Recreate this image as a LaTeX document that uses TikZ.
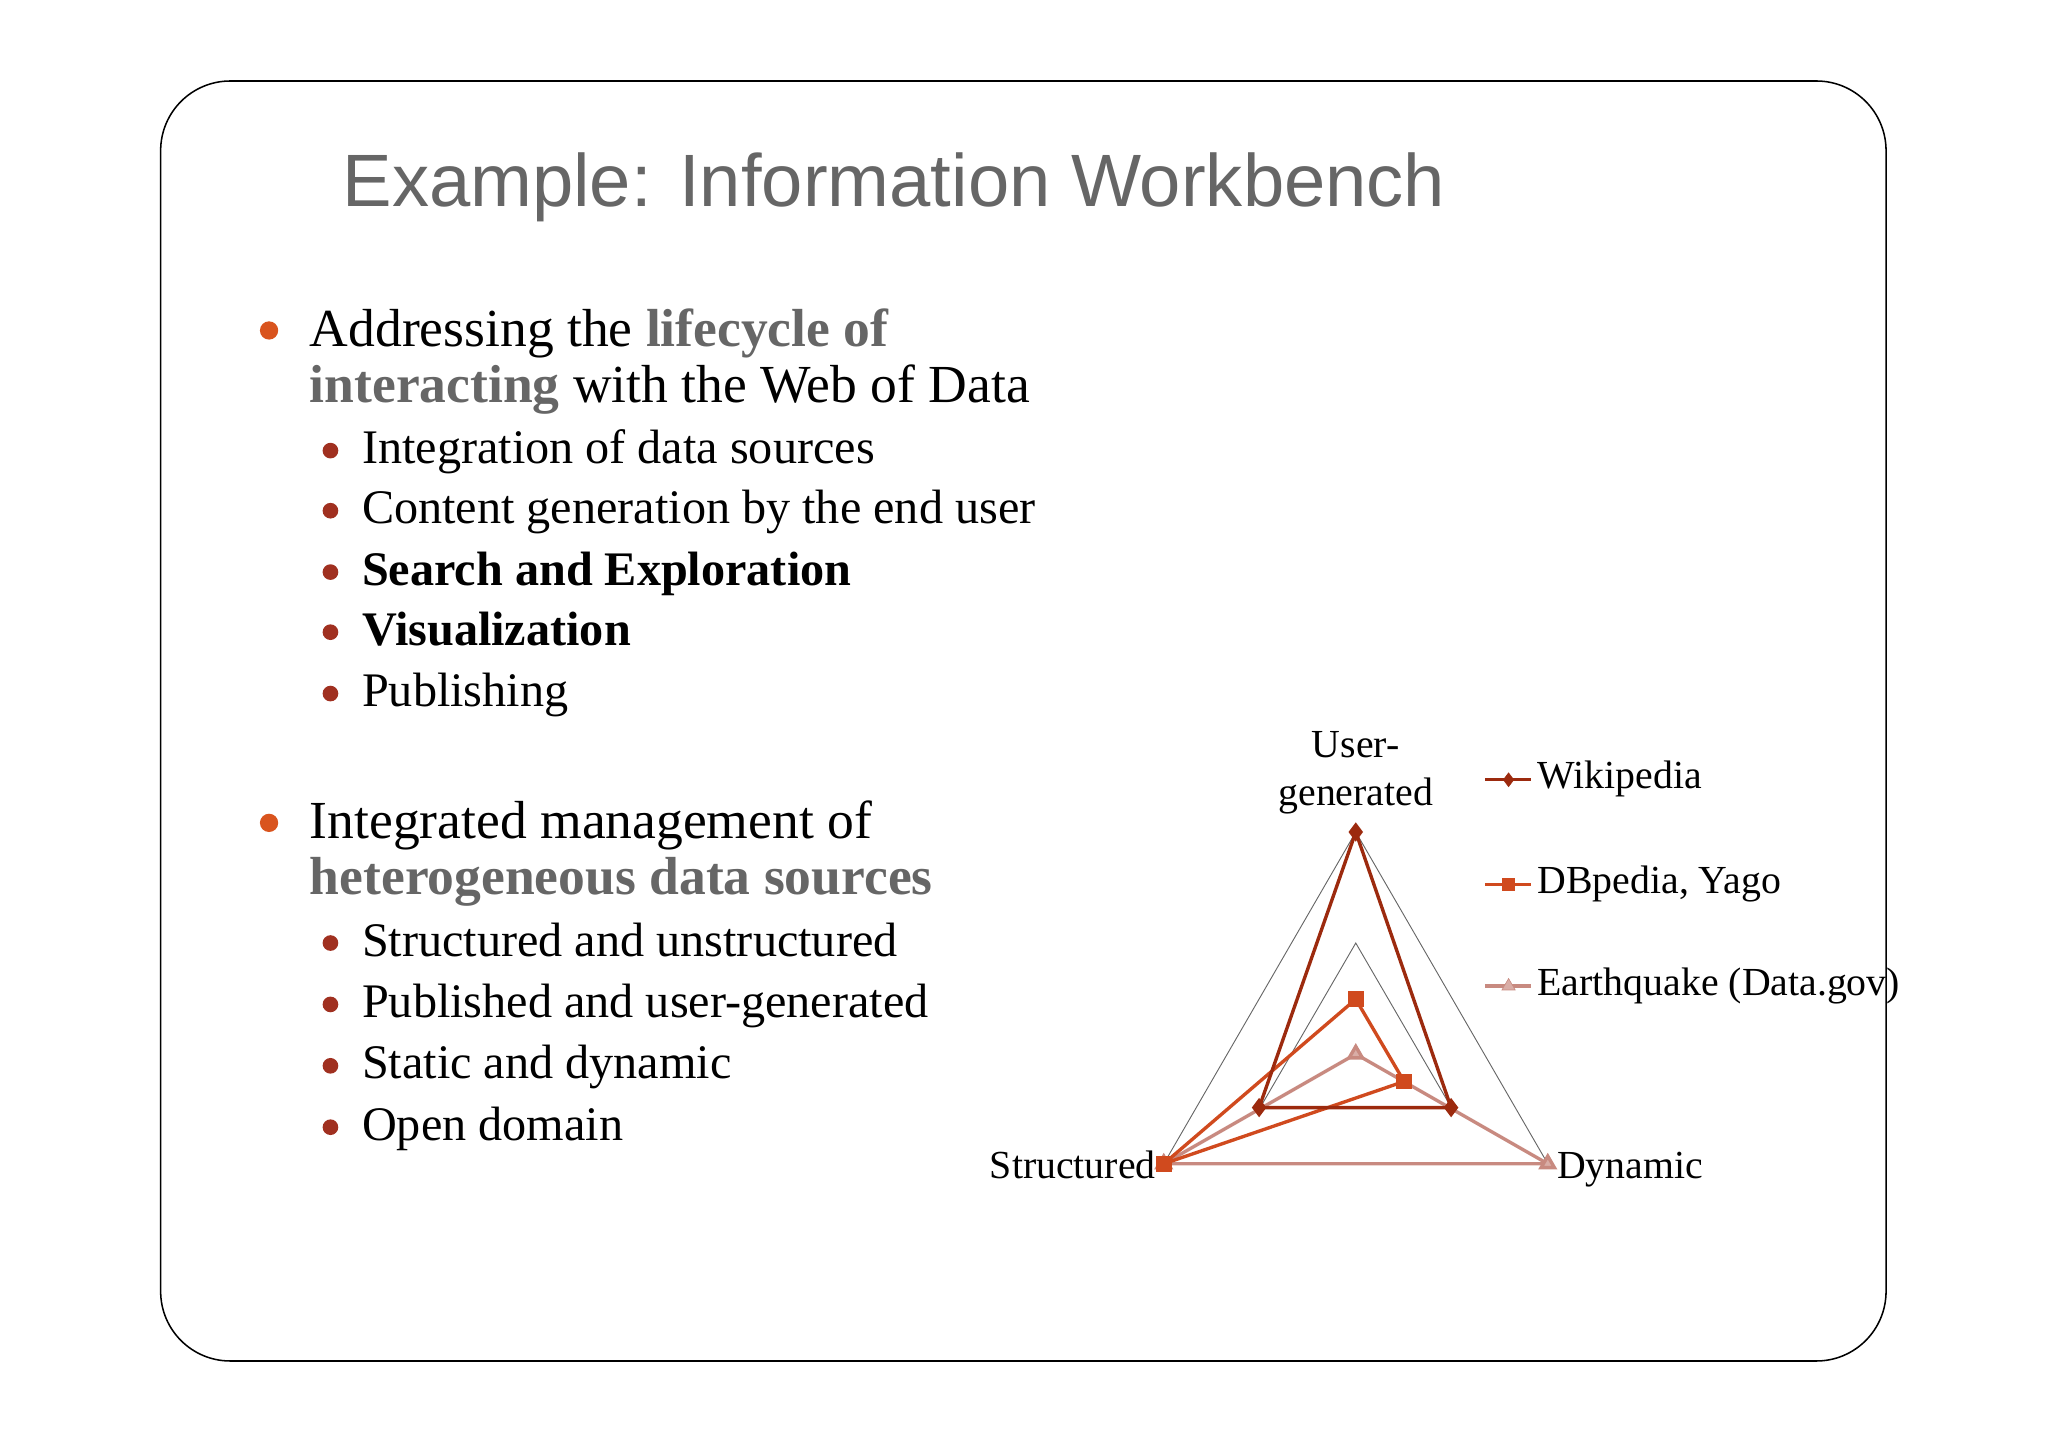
\documentclass[tikz,border=0pt]{standalone}
\usepackage{fontspec}
\setmainfont{Liberation Serif}
\newfontfamily\titlefont{Liberation Sans}
\usetikzlibrary{plotmarks}
\definecolor{wik}{HTML}{9C2A0E}
\definecolor{dbp}{HTML}{D04A1E}
\definecolor{eq}{HTML}{C88A80}
\definecolor{gr}{HTML}{666666}
\definecolor{orb}{HTML}{D9541E}
\definecolor{sub}{HTML}{A03020}
\tikzset{
 main/.style={anchor=base west,inner sep=0,font=\fontsize{35}{38}\selectfont},
 subt/.style={anchor=base west,inner sep=0,font=\fontsize{31.5}{34}\selectfont},
 lab/.style={inner sep=0,font=\fontsize{26}{28}\selectfont},
 bul/.style={circle,fill=orb,inner sep=0,minimum size=14*0.03cm},
 sbul/.style={circle,fill=sub,inner sep=0,minimum size=12*0.03cm},
}
\begin{document}
\begin{tikzpicture}[x=0.03cm,y=-0.03cm]
\useasboundingbox (0,0) rectangle (1568,1107);
\draw[line width=1pt,rounded corners=1.6cm] (123,62) rectangle (1444,1042);
\node[anchor=base west,inner sep=0,text=gr,font=\titlefont\fontsize{48.5}{52}\selectfont] (title) at (262,158) {Example: Information Workbench};
\node[bul] (b1) at (206,253) {};
\node[main] (m1) at (237,265) {Addressing the \textbf{\color{gr}lifecycle of}};
\node[main] (m2) at (237,308) {\textbf{\color{gr}interacting} with the Web of Data};
\foreach \y/\t [count=\i] in {355/Integration of data sources,401/Content generation by the end user,448/\textbf{Search and Exploration},494/\textbf{Visualization},541/Publishing}{
 \node[sbul] (sa\i) at (253,\y-10) {};
 \node[subt] (ta\i) at (277,\y) {\t};
}
\node[bul] (b2) at (206,630) {};
\node[main] (m3) at (237,642) {Integrated management of};
\node[main] (m4) at (237,685) {\textbf{\color{gr}heterogeneous data sources}};
\foreach \y/\t [count=\i] in {732/Structured and unstructured,779/Published and user-generated,826/Static and dynamic,873/Open domain}{
 \node[sbul] (sb\i) at (253,\y-10) {};
 \node[subt] (tb\i) at (277,\y) {\t};
}
% chart
\draw[gray!80!black,line width=0.6pt] (1038,637)--(891,891)--(1185,891)--cycle;
\draw[gray!80!black,line width=0.6pt] (1038,722)--(964.5,848.5)--(1111.5,848.5)--cycle;
\draw[eq,line width=2.2pt] plot[mark=triangle*,mark size=5pt,mark options={fill=eq!70!white}] coordinates{(1038,807)(1185,891)(891,891)} -- cycle;
\draw[dbp,line width=2.2pt] plot[mark=square*,mark size=4pt] coordinates{(1038,765)(1075,828)(891,891)} -- cycle;
\draw[wik,line width=2.2pt] plot[mark=diamond*,mark size=4.5pt] coordinates{(1038,637)(1111,848)(964,848)} -- cycle;
\node[lab,anchor=base] (ug) at (1038,580) {User-};
\node[lab,anchor=base] (ug2) at (1038,617) {generated};
\node[lab,anchor=base east] (st) at (885,902) {Structured};
\node[lab,anchor=base west] (dy) at (1192,902) {Dynamic};
\draw[wik,line width=2.2pt] (1137,597)--(1172,597);
\draw[dbp,line width=2.2pt] (1137,677)--(1172,677);
\draw[eq,line width=2.2pt] (1137,755)--(1172,755);
\draw[wik] plot[only marks,mark=diamond*,mark size=4.5pt] coordinates{(1155,597)};
\draw[dbp] plot[only marks,mark=square*,mark size=4pt] coordinates{(1155,677)};
\draw[eq] plot[only marks,mark=triangle*,mark size=5pt,mark options={fill=eq!70!white}] coordinates{(1155,755)};
\node[lab,anchor=base west] (l1) at (1177,604) {Wikipedia};
\node[lab,anchor=base west] (l2) at (1177,684) {DBpedia, Yago};
\node[lab,anchor=base west] (l3) at (1177,762) {Earthquake (Data.gov)};
\end{tikzpicture}
\end{document}
